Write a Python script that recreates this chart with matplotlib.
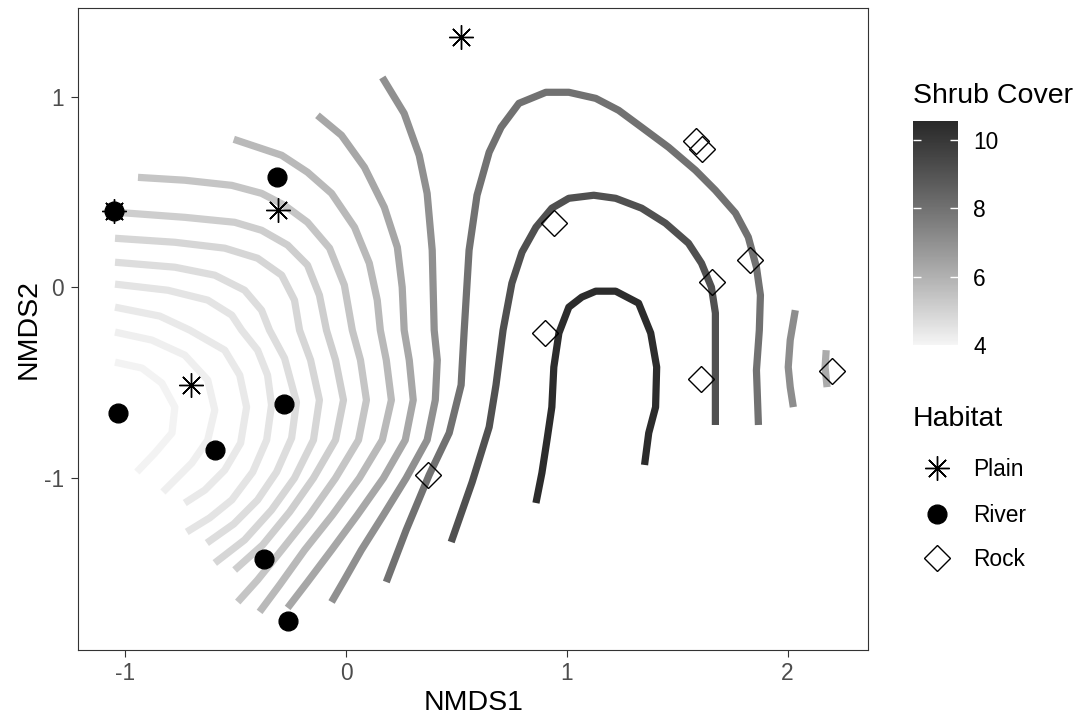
import numpy as np
import matplotlib
matplotlib.use("Agg")
import matplotlib.pyplot as plt
from matplotlib.colors import ListedColormap, Normalize
from matplotlib.cm import ScalarMappable

plt.rcParams['font.family'] = ['Liberation Sans', 'DejaVu Sans']

# ========== Data ==========
# site scores (NMDS1, NMDS2) by habitat
plain_x = [0.521, -0.310, -1.052, -0.705]
plain_y = [1.313, 0.405, 0.400, -0.513]
river_x = [-1.052, -0.315, -1.032, -0.282, -0.593, -0.374, -0.262]
river_y = [0.400, 0.578, -0.662, -0.615, -0.855, -1.427, -1.752]
rock_x = [0.373, 0.899, 0.940, 1.586, 1.611, 1.657, 1.830, 1.610, 2.203]
rock_y = [-0.986, -0.240, 0.339, 0.767, 0.725, 0.026, 0.143, -0.482, -0.438]

# fitted shrub cover surface, contour paths
arc1_x = [-1.047, -0.925, -0.835, -0.776, -0.789, -0.866, -0.948]
arc1_y = [-0.393, -0.424, -0.503, -0.629, -0.765, -0.870, -0.970]
arc2_x = [-1.047, -0.880, -0.731, -0.627, -0.595, -0.627, -0.699, -0.830]
arc2_y = [-0.235, -0.277, -0.356, -0.487, -0.645, -0.802, -0.923, -1.075]
arc3_x = [-1.047, -0.844, -0.708, -0.550, -0.482, -0.451, -0.478, -0.550, -0.640, -0.731]
arc3_y = [-0.104, -0.151, -0.225, -0.330, -0.461, -0.629, -0.818, -0.960, -1.065, -1.133]
arc4_x = [-1.047, -0.808, -0.627, -0.518, -0.473, -0.401, -0.356, -0.338, -0.360, -0.423, -0.518, -0.618, -0.722]
arc4_y = [0.017, -0.015, -0.067, -0.146, -0.225, -0.330, -0.461, -0.618, -0.802, -0.970, -1.117, -1.211, -1.285]
arc5_x = [-1.047, -0.776, -0.595, -0.460, -0.383, -0.347, -0.279, -0.225, -0.247, -0.315, -0.401, -0.509, -0.631]
arc5_y = [0.132, 0.106, 0.064, -0.015, -0.120, -0.225, -0.372, -0.603, -0.792, -0.970, -1.117, -1.243, -1.343]
arc6_x = [-1.047, -0.776, -0.550, -0.401, -0.292, -0.234, -0.211, -0.161, -0.121, -0.148, -0.234, -0.338, -0.460, -0.595]
arc6_y = [0.258, 0.237, 0.206, 0.153, 0.064, -0.067, -0.225, -0.382, -0.592, -0.802, -1.002, -1.170, -1.327, -1.448]
arc7_x = [-1.047, -0.731, -0.505, -0.383, -0.265, -0.175, -0.121, -0.089, -0.048, -0.012, -0.048, -0.148, -0.256, -0.378, -0.505]
arc7_y = [0.395, 0.368, 0.342, 0.300, 0.222, 0.117, -0.041, -0.225, -0.382, -0.592, -0.802, -1.002, -1.180, -1.353, -1.485]
arc8_x = [-0.943, -0.731, -0.518, -0.383, -0.279, -0.175, -0.075, -0.008, 0.028, 0.065, 0.092, 0.056, -0.048,
          -0.166, -0.292, -0.401, -0.491]
arc8_y = [0.578, 0.563, 0.536, 0.494, 0.431, 0.342, 0.206, 0.012, -0.225, -0.382, -0.592, -0.802, -1.002,
          -1.196, -1.380, -1.537, -1.653]
arc9_x = [-0.509, -0.292, -0.175, -0.066, 0.038, 0.105, 0.141, 0.155, 0.182, 0.205, 0.164, 0.060, -0.062,
          -0.188, -0.301, -0.392]
arc9_y = [0.778, 0.694, 0.605, 0.494, 0.316, 0.127, -0.067, -0.225, -0.382, -0.592, -0.802, -1.002, -1.196,
          -1.380, -1.563, -1.705]
arc10_x = [-0.130, -0.021, 0.083, 0.173, 0.232, 0.254, 0.263, 0.286, 0.304, 0.268, 0.169, 0.051, -0.066,
           -0.175, -0.265]
arc10_y = [0.904, 0.799, 0.631, 0.421, 0.211, 0.001, -0.225, -0.382, -0.592, -0.802, -1.002, -1.196, -1.380,
           -1.548, -1.684]
arc11_x = [0.164, 0.263, 0.331, 0.367, 0.390, 0.399, 0.413, 0.404, 0.367, 0.272, 0.169, 0.069, -0.008, -0.066]
arc11_y = [1.103, 0.914, 0.694, 0.494, 0.195, -0.225, -0.382, -0.592, -0.802, -1.002, -1.196, -1.380, -1.537, -1.653]
outer_x = [0.182, 0.272, 0.376, 0.467, 0.521, 0.535, 0.557, 0.593, 0.648, 0.702, 0.783, 0.905, 1.009,
           1.131, 1.235, 1.339, 1.461, 1.583, 1.673, 1.764, 1.822, 1.859, 1.877, 1.872, 1.859, 1.868]
outer_y = [-1.548, -1.275, -0.986, -0.765, -0.513, -0.225, 0.195, 0.484, 0.710, 0.841, 0.967, 1.025, 1.025,
           0.993, 0.930, 0.841, 0.736, 0.615, 0.510, 0.390, 0.264, 0.106, -0.041, -0.225, -0.435, -0.723]
middle_x = [0.476, 0.571, 0.648, 0.679, 0.711, 0.751, 0.797, 0.860, 0.932, 1.009, 1.122, 1.221, 1.339,
            1.447, 1.551, 1.610, 1.655, 1.673, 1.673, 1.673]
middle_y = [-1.338, -1.023, -0.734, -0.513, -0.225, 0.022, 0.185, 0.316, 0.416, 0.468, 0.484, 0.468, 0.416,
            0.337, 0.232, 0.127, 0.001, -0.135, -0.330, -0.723]
inner_x = [0.860, 0.887, 0.910, 0.932, 0.941, 0.964, 1.009, 1.068, 1.131, 1.221, 1.325, 1.380, 1.407, 1.402, 1.371, 1.352]
inner_y = [-1.133, -0.975, -0.802, -0.629, -0.419, -0.240, -0.104, -0.051, -0.020, -0.020, -0.083, -0.240, -0.419, -0.629, -0.765, -0.933]
right1_x = [2.035, 2.012, 2.003, 2.012, 2.026]
right1_y = [-0.120, -0.277, -0.419, -0.524, -0.629]
right2_x = [2.175, 2.170, 2.179]
right2_y = [-0.330, -0.419, -0.524]

# shrub cover value of each path
contour_level = [4.06, 4.2, 4.35, 4.5, 4.7, 4.9, 5.15, 5.4, 5.75, 6.3, 7.0, 8.0, 9.1, 10.4, 7.1, 6.2]
contour_x = [arc1_x, arc2_x, arc3_x, arc4_x, arc5_x, arc6_x, arc7_x, arc8_x, arc9_x, arc10_x,
             arc11_x, outer_x, middle_x, inner_x, right1_x, right2_x]
contour_y = [arc1_y, arc2_y, arc3_y, arc4_y, arc5_y, arc6_y, arc7_y, arc8_y, arc9_y, arc10_y,
             arc11_y, outer_y, middle_y, inner_y, right1_y, right2_y]

cover_range = (4.0, 10.55)
cover_ticks = [4, 6, 8, 10]


# ========== Helpers ==========
def grey_ramp(lo, hi, n=256):
    # grey gradient interpolated in CIE L*, like ggplot's colour ramp
    def to_L(v):
        lin = ((v + 0.055) / 1.055) ** 2.4 if v > 0.04045 else v / 12.92
        f = lin ** (1 / 3) if lin > 0.008856 else 7.787 * lin + 16 / 116
        return 116 * f - 16

    def from_L(L):
        f = (L + 16) / 116
        lin = f ** 3 if f ** 3 > 0.008856 else (f - 16 / 116) / 7.787
        return 1.055 * lin ** (1 / 2.4) - 0.055 if lin > 0.0031308 else 12.92 * lin

    greys = [from_L(L) for L in np.linspace(to_L(lo), to_L(hi), n)]
    return ListedColormap([(g, g, g) for g in greys])


def expand(vals, mult=0.05):
    lo, hi = min(vals), max(vals)
    pad = (hi - lo) * mult
    return lo - pad, hi + pad


# ========== Plot ==========
W, H = 1081, 722
fig = plt.figure(figsize=(W / 100, H / 100), dpi=100)
ax = fig.add_axes([78 / W, 1 - 650 / H, 790.3 / W, 641.7 / H])

cmap = grey_ramp(0.96, 0.16)
norm = Normalize(*cover_range)

for xs, ys, lev in zip(contour_x, contour_y, contour_level):
    ax.plot(xs, ys, color=cmap(norm(lev)), lw=5.2, solid_capstyle='butt',
            solid_joinstyle='round', zorder=2)

ax.plot(plain_x, plain_y, ls='none', marker=(8, 2, 0), ms=17.5, mew=1.0, color='black', zorder=3)
ax.plot(river_x, river_y, ls='none', marker='o', ms=13.5, color='black', zorder=4)
ax.plot(rock_x, rock_y, ls='none', marker='D', ms=13.5, mew=1.0, mfc='none', mec='black', zorder=5)

all_x = plain_x + river_x + rock_x
all_y = plain_y + river_y + rock_y
ax.set_xlim(*expand(all_x))
ax.set_ylim(*expand(all_y))
ax.set_xticks([-1, 0, 1, 2])
ax.set_yticks([-1, 0, 1])
ax.set_xticklabels(['-1', '0', '1', '2'])
ax.set_yticklabels(['-1', '0', '1'])
ax.tick_params(length=5, width=0.8, color='#333333', labelcolor='#4d4d4d', labelsize=16.4, pad=4)
ax.tick_params(axis='y', pad=5)
for sp in ax.spines.values():
    sp.set_color('#333333')
    sp.set_linewidth(0.8)
ax.set_xlabel('NMDS1', fontsize=20.5, labelpad=3)
ax.set_ylabel('NMDS2', fontsize=20.5, labelpad=2)

# colourbar legend
cax = fig.add_axes([913 / W, 1 - 345 / H, 45 / W, 224.3 / H])
cb = fig.colorbar(ScalarMappable(norm=norm, cmap=cmap), cax=cax, ticks=cover_ticks)
cb.outline.set_visible(False)
cax.tick_params(axis='y', direction='in', length=6, width=1, color='white', left=True, right=True,
                labelleft=False, labelright=True, labelsize=16.4, pad=11)
fig.text(913 / W, 1 - 103 / H, 'Shrub Cover', fontsize=20.5, va='baseline', ha='left')

# habitat legend
leg = fig.add_axes([0, 0, 1, 1])
leg.set_xlim(0, W)
leg.set_ylim(H, 0)
leg.axis('off')
leg.text(913, 426.5, 'Habitat', fontsize=20.5, va='baseline', ha='left')
key_y = [468, 514, 558]
leg.plot(937, key_y[0], marker=(8, 2, 0), ms=17.5, mew=1.0, color='black')
leg.plot(937, key_y[1], marker='o', ms=13.5, color='black')
leg.plot(937, key_y[2], marker='D', ms=13.5, mew=1.0, mfc='none', mec='black')
for yy, lab in zip(key_y, ['Plain', 'River', 'Rock']):
    leg.text(973, yy + 8.5, lab, fontsize=16.4, va='baseline', ha='left')

fig.savefig('out.png', dpi=100)
